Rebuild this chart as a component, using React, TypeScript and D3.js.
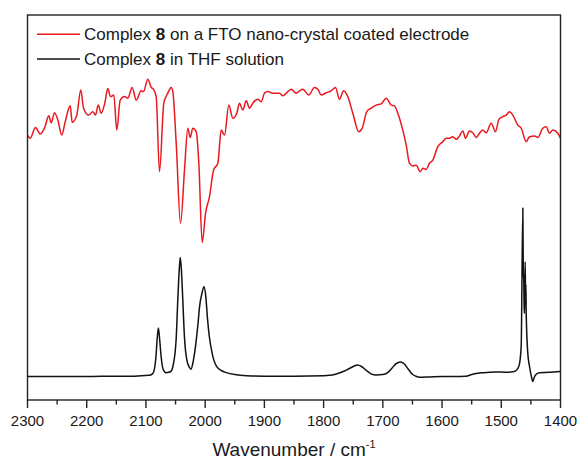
import React from "react";
import * as d3 from "d3";

const W = 577;
const H = 459;

// wavenumber (cm-1) axis
const xTicksMajor = [2300, 2200, 2100, 2000, 1900, 1800, 1700, 1600, 1500, 1400];
const xTicksMinor = [2250, 2150, 2050, 1950, 1850, 1750, 1650, 1550, 1450];

// FTO-coated electrode spectrum (red): wavenumber, intensity (a.u.)
const fto_wn = [
  2300, 2295.4, 2286.5, 2278.6, 2271.3, 2264.0, 2260.0, 2254.4, 2248.8, 2242.1,
  2236.3, 2227.9, 2224.5, 2216.8, 2210.0, 2205.4, 2196.5, 2189.7, 2185.2, 2180.6,
  2175.6, 2169.5, 2164.4, 2159.8, 2154.3, 2149.2, 2143.5, 2136.2, 2130.6, 2123.2,
  2116.5, 2108.0, 2104.1, 2096.9, 2091.1, 2087.2, 2082.7, 2077.1, 2069.8, 2063.1,
  2057.4, 2054.6, 2048.9, 2041.6, 2034.9, 2029.3, 2025.3, 2020.9, 2015.1, 2010.7,
  2005.0, 1999.4, 1992.7, 1985.9, 1978.6, 1972.9, 1967.3, 1960.1, 1953.3, 1946.6,
  1942.0, 1936.5, 1930.7, 1925.1, 1919.6, 1911.1, 1905.4, 1899.8, 1894.2, 1885.8,
  1874.5, 1868.9, 1860.5, 1854.7, 1846.3, 1840.7, 1835.1, 1825.0, 1815.4, 1809.8,
  1804.1, 1795.6, 1787.2, 1779.9, 1773.2, 1766.4, 1759.2, 1750.7, 1740.6, 1734.8,
  1727.1, 1719.6, 1711.2, 1702.8, 1694.3, 1685.9, 1680.3, 1674.7, 1666.3, 1660.5,
  1655.0, 1649.4, 1643.6, 1636.9, 1632.5, 1626.8, 1621.2, 1615.6, 1607.2, 1598.7,
  1593.0, 1587.4, 1581.8, 1576.1, 1570.5, 1564.9, 1560.4, 1553.6, 1548.1, 1542.3,
  1536.8, 1531.2, 1525.5, 1517.0, 1509.7, 1504.0, 1497.3, 1491.6, 1486.1, 1480.5,
  1472.1, 1466.4, 1457.9, 1452.3, 1443.9, 1438.3, 1429.9, 1424.1, 1418.6, 1413.0,
  1404.5, 1400,
];
const fto_val = [
  0.688, 0.680, 0.708, 0.691, 0.706, 0.738, 0.720, 0.746, 0.727, 0.688,
  0.723, 0.764, 0.721, 0.740, 0.805, 0.758, 0.740, 0.749, 0.740, 0.766,
  0.745, 0.771, 0.809, 0.788, 0.792, 0.701, 0.779, 0.788, 0.784, 0.812,
  0.779, 0.803, 0.801, 0.833, 0.812, 0.807, 0.788, 0.593, 0.771, 0.797,
  0.812, 0.801, 0.667, 0.459, 0.597, 0.706, 0.682, 0.706, 0.697, 0.615,
  0.409, 0.485, 0.528, 0.597, 0.615, 0.701, 0.688, 0.766, 0.732, 0.745,
  0.771, 0.753, 0.777, 0.758, 0.771, 0.781, 0.775, 0.797, 0.801, 0.797,
  0.797, 0.790, 0.801, 0.807, 0.797, 0.803, 0.807, 0.792, 0.812, 0.807,
  0.792, 0.798, 0.803, 0.812, 0.781, 0.803, 0.788, 0.745, 0.697, 0.706,
  0.749, 0.758, 0.766, 0.769, 0.784, 0.766, 0.764, 0.745, 0.701, 0.662,
  0.615, 0.608, 0.610, 0.593, 0.602, 0.599, 0.615, 0.623, 0.658, 0.671,
  0.680, 0.680, 0.684, 0.677, 0.686, 0.699, 0.680, 0.699, 0.694, 0.682,
  0.693, 0.701, 0.694, 0.719, 0.697, 0.729, 0.736, 0.740, 0.749, 0.740,
  0.714, 0.706, 0.671, 0.684, 0.686, 0.682, 0.706, 0.710, 0.693, 0.701,
  0.693, 0.680,
];

// THF solution spectrum (black)
const thf_wn = [
  2300, 2250, 2200, 2150, 2120, 2095, 2089, 2086.5, 2083, 2081,
  2079, 2077, 2074.5, 2071, 2066, 2061, 2057, 2054.5, 2051, 2049,
  2046, 2043.5, 2042, 2040, 2038, 2035, 2031, 2027, 2024, 2020,
  2015, 2012, 2009.5, 2005, 2002, 1999, 1996, 1993, 1988, 1981,
  1972, 1964, 1950, 1930, 1900, 1850, 1800, 1790, 1780, 1770,
  1760, 1750, 1743, 1736, 1728, 1720, 1711, 1700, 1692, 1685,
  1678, 1670, 1664, 1657, 1650, 1643, 1638, 1620, 1600, 1580,
  1560, 1550, 1545, 1530, 1510, 1490, 1478, 1470.4, 1466.4, 1463.6,
  1462.8, 1462.0, 1461.4, 1460.8, 1460.2, 1459.6, 1459.0, 1458.4, 1457.9, 1455.2,
  1452.3, 1449, 1446.8, 1444.5, 1442.2, 1435.5, 1420, 1400,
];
const thf_val = [
  0.061, 0.061, 0.061, 0.062, 0.062, 0.064, 0.068, 0.075, 0.115, 0.160,
  0.187, 0.160, 0.115, 0.080, 0.071, 0.072, 0.076, 0.087, 0.120, 0.158,
  0.268, 0.345, 0.370, 0.335, 0.268, 0.164, 0.104, 0.086, 0.080, 0.102,
  0.156, 0.200, 0.242, 0.280, 0.294, 0.270, 0.210, 0.165, 0.120, 0.088,
  0.076, 0.071, 0.066, 0.063, 0.062, 0.062, 0.063, 0.064, 0.067, 0.072,
  0.079, 0.087, 0.091, 0.087, 0.077, 0.068, 0.065, 0.066, 0.071, 0.082,
  0.094, 0.099, 0.094, 0.080, 0.067, 0.061, 0.059, 0.060, 0.061, 0.061,
  0.062, 0.066, 0.068, 0.071, 0.073, 0.072, 0.074, 0.087, 0.138, 0.499,
  0.330, 0.312, 0.240, 0.225, 0.300, 0.359, 0.260, 0.300, 0.225, 0.121,
  0.087, 0.060, 0.048, 0.058, 0.065, 0.071, 0.072, 0.074,
];

const legendLabels = [
  { pre: "Complex ", bold: "8", post: " on a FTO nano-crystal coated electrode", color: "#e8191f" },
  { pre: "Complex ", bold: "8", post: " in THF solution", color: "#111111" },
];

export default function App() {
  const left = 27.5;
  const right = 560.5;
  const top = 15;
  const bottom = 400;

  const x = d3.scaleLinear().domain([2300, 1400]).range([left, right]);
  const y = d3.scaleLinear().domain([0, 1]).range([bottom, top]);

  const line = d3
    .line<[number, number]>()
    .x((d) => x(d[0]))
    .y((d) => y(d[1]))
    .curve(d3.curveMonotoneX);

  const fto: [number, number][] = fto_wn.map((w, i) => [w, fto_val[i]]);
  const thf: [number, number][] = thf_wn.map((w, i) => [w, thf_val[i]]);

  const font = "'Liberation Sans', Arial, Helvetica, sans-serif";
  const textColor = "#1a1a1a";

  return (
    <svg
      width={W}
      height={H}
      style={{ position: "absolute", left: 0, top: 0, background: "#fff" }}
      fontFamily={font}
    >
      <rect x={0} y={0} width={W} height={H} fill="#fff" />
      <path d={line(fto) || ""} fill="none" stroke="#e8191f" strokeWidth={1.5} strokeLinejoin="round" />
      <path d={line(thf) || ""} fill="none" stroke="#111" strokeWidth={1.5} strokeLinejoin="round" />

      <rect x={left} y={top} width={right - left} height={bottom - top} fill="none" stroke="#222" strokeWidth={1.4} />

      {xTicksMajor.map((t) => (
        <g key={"M" + t}>
          <line x1={x(t)} x2={x(t)} y1={bottom} y2={bottom + 8} stroke="#222" strokeWidth={1.4} />
          <text x={x(t)} y={425.5} textAnchor="middle" fontSize={15} fill={textColor}>
            {t}
          </text>
        </g>
      ))}
      {xTicksMinor.map((t) => (
        <line key={"m" + t} x1={x(t)} x2={x(t)} y1={bottom} y2={bottom + 4.5} stroke="#222" strokeWidth={1.4} />
      ))}

      <text x={(left + right) / 2} y={456} textAnchor="middle" fontSize={19} fill={textColor}>
        Wavenumber / cm
        <tspan fontSize={11} dy={-8}>-1</tspan>
      </text>

      {legendLabels.map((l, i) => {
        const ly = 34.3 + i * 24.7;
        return (
          <g key={i}>
            <line x1={37} x2={80} y1={ly} y2={ly} stroke={l.color} strokeWidth={1.5} />
            <text x={84} y={ly + 6} fontSize={17} fill={textColor}>
              {l.pre}
              <tspan fontWeight="bold">{l.bold}</tspan>
              {l.post}
            </text>
          </g>
        );
      })}
    </svg>
  );
}
